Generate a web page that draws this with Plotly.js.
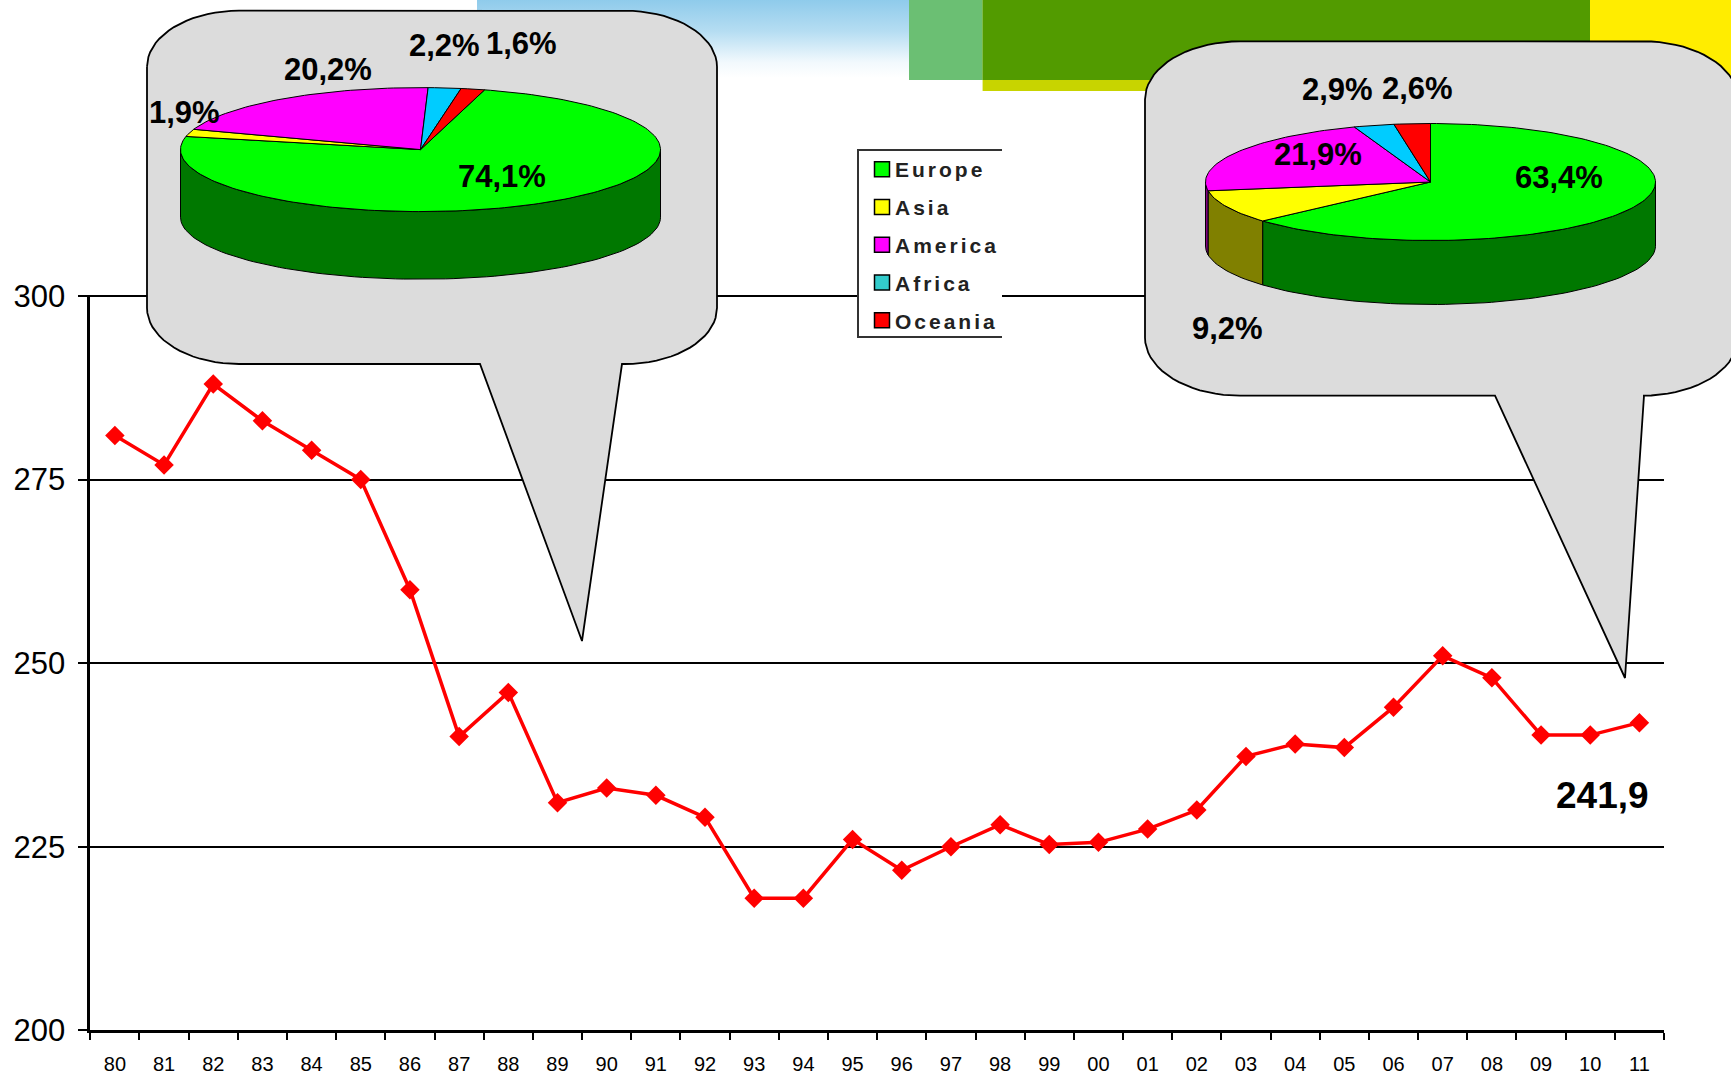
<!DOCTYPE html>
<html>
<head>
<meta charset="utf-8">
<script src="https://cdn.plot.ly/plotly-3.0.1.min.js"></script>
<style>
html,body{margin:0;padding:0;background:#fff;}
#chart{width:1731px;height:1076px;}
.legendtext{letter-spacing:3px;transform:translateX(-7px);}
</style>
</head>
<body>
<div id="chart"></div>
<script>
// ---- data ----
const years = ['80','81','82','83','84','85','86','87','88','89','90','91','92','93','94','95','96','97','98','99','00','01','02','03','04','05','06','07','08','09','10','11'];
const values = [281,277,288,283,279,275,260,240,246,231,233,232,229,218,218,226,221.8,225,228,225.3,225.6,227.4,230,237.3,239,238.5,244,251,248,240.2,240.2,241.9];
const yTicks = [200,225,250,275,300];
const regions = ['Europe','Asia','America','Africa','Oceania'];
const sharesLeft = [74.1,1.9,20.2,2.2,1.6];
const sharesRight = [63.4,9.2,21.9,2.9,2.6];
const labelsLeft = ['74,1%','1,9%','20,2%','2,2%','1,6%'];
const labelsRight = ['63,4%','9,2%','21,9%','2,9%','2,6%'];
const lastLabel = '241,9';

// ---- styles and layout ----
const W = 1731, H = 1076;
const plot = {l:90.3, r:1664, t:294.53, b:1030.3};
const topColors = ['#00FF00','#FFFF00','#FF00FF','#00CCFF','#FF0000'];
const wallColors = ['#007800','#808000','#800080','#006680','#800000'];
const legendColors = ['#00FF00','#FFFF00','#FF00FF','#33CCCC','#FF0000'];
const font = '"Liberation Sans", Arial, sans-serif';
const pieL = {cx:420.5, cy:149.6, rx:240, ry:62, depth:67.6, start:15.5};
const pieR = {cx:1430.5, cy:182, rx:225, ry:58.5, depth:64, start:0};
const bubbleL = {x0:147, x1:717, y0:10.7, y1:364, rx:92, ry:56, pl:480, pr:622, tx:582, ty:641};
const bubbleR = {x0:1145, x1:1738, y0:41.3, y1:395.7, rx:95, ry:58, pl:1495, pr:1644, tx:1625, ty:678};
const labelPosL = [[502,176],[184,112],[328,69],[444,45],[521,43]];
const labelPosR = [[1559,177],[1227,328],[1318,154],[1337,89],[1417,88]];

const traces = [];
// line chart
traces.push({type:'scatter', mode:'lines+markers', x:years, y:values, xaxis:'x', yaxis:'y', showlegend:false,
  line:{color:'#FF0000', width:3.5}, marker:{symbol:'diamond', size:15, color:'#FF0000'}, cliponaxis:false});

// sky gradient band of the page template
traces.push({type:'scatter', mode:'lines', x:[477,909,909,477,477], y:[0,0,78,78,0], xaxis:'x2', yaxis:'y2', showlegend:false,
  hoverinfo:'skip', line:{width:0}, fill:'toself',
  fillgradient:{type:'vertical', start:0, stop:78, colorscale:[[0,'#8FCBEB'],[0.4,'#B5DDF2'],[0.8,'#F2F9FD'],[1,'#FFFFFF']]}});

function addBubble(b){
  const xs=[], ys=[];
  const arc=(cx,cy,from,to)=>{ for(let a=from;a<=to;a+=5){ const t=a*Math.PI/180;
    xs.push(cx+b.rx*Math.sin(t)); ys.push(cy-b.ry*Math.cos(t)); } };
  arc(b.x0+b.rx,b.y0+b.ry,270,360);
  arc(b.x1-b.rx,b.y0+b.ry,0,90);
  arc(b.x1-b.rx,b.y1-b.ry,90,180);
  xs.push(b.pr,b.tx,b.pl); ys.push(b.y1,b.ty,b.y1);
  arc(b.x0+b.rx,b.y1-b.ry,180,270);
  xs.push(xs[0]); ys.push(ys[0]);
  traces.push({type:'scatter', mode:'lines', x:xs, y:ys, xaxis:'x2', yaxis:'y2', showlegend:false, hoverinfo:'skip',
    fill:'toself', fillcolor:'#DCDCDC', line:{color:'#000', width:1.8}});
}

function addPie(p, shares){
  const px=(d)=>p.cx+p.rx*Math.sin(d*Math.PI/180);
  const py=(d)=>p.cy-p.ry*Math.cos(d*Math.PI/180);
  const total=shares.reduce((s,v)=>s+v,0);
  let a=p.start;
  const spans=shares.map(v=>{ const s=[a,a+v/total*360]; a=s[1]; return s; });
  // walls first
  spans.forEach((s,i)=>{
    const from=Math.max(s[0],90), to=Math.min(s[1],270);
    if(to<=from) return;
    const xs=[], ys=[];
    for(let d=from;d<to;d+=2){ xs.push(px(d)); ys.push(py(d)); }
    xs.push(px(to)); ys.push(py(to));
    xs.push(px(to)); ys.push(py(to)+p.depth);
    for(let d=to;d>from;d-=2){ xs.push(px(d)); ys.push(py(d)+p.depth); }
    xs.push(px(from)); ys.push(py(from)+p.depth);
    xs.push(xs[0]); ys.push(ys[0]);
    traces.push({type:'scatter', mode:'lines', x:xs, y:ys, xaxis:'x2', yaxis:'y2', showlegend:false, hoverinfo:'skip',
      fill:'toself', fillcolor:wallColors[i], line:{color:'#000', width:1}});
  });
  // top faces
  spans.forEach((s,i)=>{
    const xs=[p.cx], ys=[p.cy];
    for(let d=s[0];d<s[1];d+=1.5){ xs.push(px(d)); ys.push(py(d)); }
    xs.push(px(s[1]),p.cx); ys.push(py(s[1]),p.cy);
    traces.push({type:'scatter', mode:'lines', x:xs, y:ys, xaxis:'x2', yaxis:'y2', showlegend:false, hoverinfo:'skip', name:regions[i],
      fill:'toself', fillcolor:topColors[i], line:{color:'#000', width:1}});
  });
}
addBubble(bubbleL); addPie(pieL, sharesLeft);
addBubble(bubbleR); addPie(pieR, sharesRight);

// legend entries
regions.forEach((r,i)=>{
  traces.push({type:'scatter', mode:'markers', name:r, x:[null], y:[null], xaxis:'x2', yaxis:'y2', legendgroup:r,
    marker:{symbol:'square', size:15, color:legendColors[i], line:{color:'#000', width:1.5}}, hoverinfo:'skip'});
});

const annotations = [];
function addLabels(texts, pos){
  texts.forEach((t,i)=>annotations.push({text:t, x:pos[i][0], y:pos[i][1], xref:'x2', yref:'y2', showarrow:false,
    xanchor:'center', yanchor:'middle', font:{family:font, size:31, color:'#000', weight:700}}));
}
addLabels(labelsLeft, labelPosL);
addLabels(labelsRight, labelPosR);
annotations.push({text:lastLabel, x:1602, y:795, xref:'x2', yref:'y2', showarrow:false, xanchor:'center', yanchor:'middle',
  font:{family:font, size:37, color:'#000', weight:700}});

const layout = {
  width:W, height:H, margin:{l:0,r:0,t:0,b:0,pad:0}, autosize:false,
  paper_bgcolor:'#FFFFFF', plot_bgcolor:'rgba(0,0,0,0)', font:{family:font, color:'#000'},
  showlegend:true, hovermode:false,
  xaxis:{domain:[plot.l/W, plot.r/W], type:'category', range:[-0.5,31.5], tickson:'boundaries', ticks:'outside', ticklen:7, tickwidth:2, tickcolor:'#000',
    showline:true, linecolor:'#000', linewidth:2.5, showgrid:false, tickfont:{size:20,family:font,color:'#000'}, ticklabelstandoff:14, automargin:false, fixedrange:true, tickangle:0},
  yaxis:{domain:[(H-plot.b)/H, (H-plot.t)/H], range:[200,300.2], tickvals:yTicks, ticktext:yTicks.map(String), ticks:'outside', ticklen:10, tickwidth:2, tickcolor:'#000',
    showline:true, linecolor:'#000', linewidth:2.5, showgrid:true, gridcolor:'#000', gridwidth:1.8, zeroline:false, tickfont:{size:31,family:font,color:'#000'}, ticklabelstandoff:6, automargin:false, fixedrange:true},
  xaxis2:{domain:[0,1], range:[0,W], visible:false, fixedrange:true, anchor:'y2'},
  yaxis2:{domain:[0,1], range:[H,0], visible:false, fixedrange:true, anchor:'x2'},
  legend:{x:862/W, y:1-149/H, xanchor:'left', yanchor:'top', bgcolor:'rgba(0,0,0,0)', borderwidth:0, tracegroupgap:7.5,
    font:{family:font, size:21, color:'#222', weight:700}, itemclick:false, itemdoubleclick:false},
  shapes:[
    {type:'rect', xref:'x2', yref:'y2', layer:'below', x0:982.6, x1:W, y0:0, y1:91, fillcolor:'#C8D400', line:{width:0}},
    {type:'rect', xref:'x2', yref:'y2', layer:'below', x0:1590, x1:W, y0:0, y1:91, fillcolor:'#FFED00', line:{width:0}},
    {type:'rect', xref:'x2', yref:'y2', layer:'below', x0:909, x1:982.6, y0:0, y1:80, fillcolor:'#6BBF73', line:{width:0}},
    {type:'rect', xref:'x2', yref:'y2', layer:'below', x0:982.6, x1:1590, y0:0, y1:80, fillcolor:'#529B00', line:{width:0}},
    {type:'path', xref:'x2', yref:'y2', layer:'above', path:'M 1002 150 L 858 150 L 858 337 L 1002 337', fillcolor:'#FFFFFF', line:{color:'#333', width:2}}
  ],
  annotations:annotations
};
Plotly.newPlot('chart', traces, layout, {displayModeBar:false, staticPlot:false, responsive:false});
</script>
</body>
</html>
